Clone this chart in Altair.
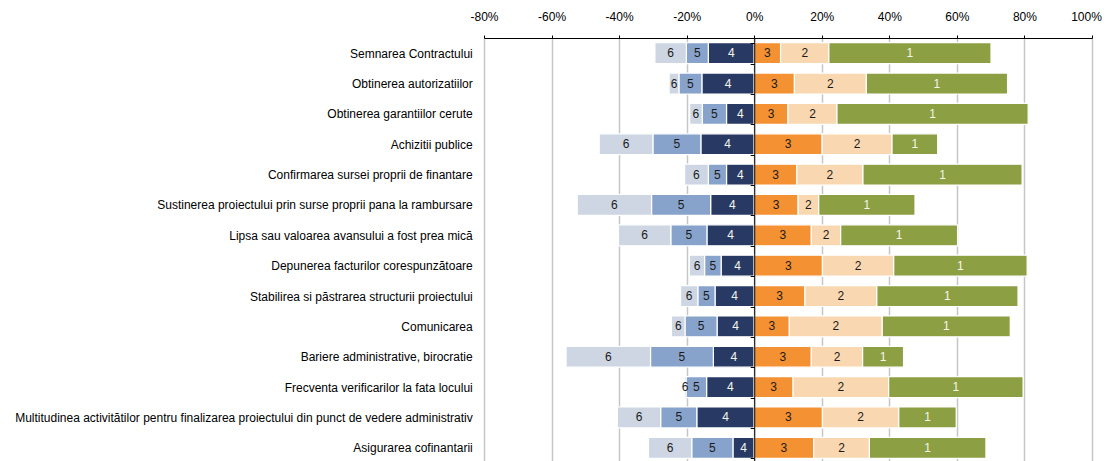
import altair as alt
import pandas as pd

categories = [
    "Semnarea Contractului",
    "Obtinerea autorizatiilor",
    "Obtinerea garantiilor cerute",
    "Achizitii publice",
    "Confirmarea sursei proprii de finantare",
    "Sustinerea proiectului prin surse proprii pana la rambursare",
    "Lipsa sau valoarea avansului a fost prea mică",
    "Depunerea facturilor corespunzătoare",
    "Stabilirea si păstrarea structurii proiectului",
    "Comunicarea",
    "Bariere administrative, birocratie",
    "Frecventa verificarilor la fata locului ",
    "Multitudinea activitătilor pentru finalizarea proiectului din punct de vedere administrativ",
    "Asigurarea cofinantarii",
]

# negative side (shown left of zero), magnitudes in %
v4 = [13.6, 15.5, 8.2, 15.8, 8.2, 12.9, 14.0, 9.8, 11.6, 11.0, 12.1, 14.1, 17.0, 6.3]
v5 = [6.5, 6.8, 7.2, 14.2, 5.4, 17.5, 10.7, 4.9, 5.1, 9.5, 18.6, 6.1, 10.7, 12.2]
v6 = [9.3, 2.9, 3.7, 15.9, 7.0, 22.0, 15.5, 4.5, 5.1, 4.0, 25.0, 0.5, 12.8, 12.8]
# positive side, in %
v3 = [7.8, 11.9, 10.0, 20.1, 12.6, 13.0, 16.9, 20.2, 15.0, 10.4, 16.9, 11.5, 20.2, 17.6]
v2 = [14.3, 21.3, 14.5, 20.7, 19.6, 6.1, 8.7, 21.1, 21.3, 27.5, 15.2, 28.3, 22.6, 16.5]
v1 = [48.0, 41.8, 56.6, 13.5, 47.1, 28.5, 34.6, 39.5, 41.8, 37.9, 12.1, 39.8, 17.0, 34.5]

keys = ["4", "5", "6", "3", "2", "1"]
key_colors = ["#283a64", "#87a3cb", "#cdd6e2", "#f49132", "#f9d8b1", "#8c9f43"]
tick_values = [-80, -60, -40, -20, 0, 20, 40, 60, 80, 100]

rows = []
for i, c in enumerate(categories):
    pos = 0.0
    for k, arr in (("4", v4), ("5", v5), ("6", v6)):
        start, end = pos, pos - arr[i]
        rows.append({"cat": c, "key": k, "x0": start, "x1": end, "mid": (start + end) / 2})
        pos = end
    pos = 0.0
    for k, arr in (("3", v3), ("2", v2), ("1", v1)):
        start, end = pos, pos + arr[i]
        rows.append({"cat": c, "key": k, "x0": start, "x1": end, "mid": (start + end) / 2})
        pos = end
df = pd.DataFrame(rows)

W, H = 608, 425
zero_px = W * 80 / 180
FONT = "Liberation Sans"

xscale = alt.Scale(domain=[-80, 100], nice=False, zero=False)
yenc = alt.Y(
    "cat:N",
    sort=categories,
    scale=alt.Scale(paddingInner=0.31, paddingOuter=0.155),
    axis=alt.Axis(
        title=None,
        orient="left",
        offset=-zero_px,
        domain=True,
        domainColor="black",
        domainWidth=1,
        ticks=True,
        tickBand="extent",
        tickColor="black",
        tickSize=4,
        tickWidth=1,
        labelPadding=278,
        labelFont=FONT,
        labelFontSize=12,
        labelColor="#000000",
        labelLimit=0,
        zindex=1,
    ),
)

bars = alt.Chart(df).mark_bar(stroke="white", strokeWidth=1.2).encode(
    x=alt.X(
        "x0:Q",
        scale=xscale,
        axis=alt.Axis(
            title=None,
            orient="top",
            values=tick_values,
            labelExpr="datum.value + '%'",
            labelFlush=False,
            labelOverlap=False,
            labelOffset={"condition": {"test": "datum.value == 100", "value": -6}, "value": 0},
            domain=True,
            domainColor="black",
            domainWidth=1,
            ticks=True,
            tickColor="black",
            tickSize=3,
            labelPadding=12,
            labelFont=FONT,
            labelFontSize=12,
            labelColor="#000000",
            grid=True,
            gridColor="#c6c6c6",
            gridWidth=1.5,
        ),
    ),
    x2="x1:Q",
    y=yenc,
    color=alt.Color("key:N", scale=alt.Scale(domain=keys, range=key_colors), legend=None),
)

labels = alt.Chart(df).mark_text(font=FONT, fontSize=12, baseline="middle", align="center").encode(
    x=alt.X("mid:Q", scale=xscale),
    y=alt.Y("cat:N", sort=categories),
    text="key:N",
    color=alt.condition(
        "datum.key == '4' || datum.key == '1'",
        alt.value("#f4f6ec"),
        alt.value("#1a1a1a"),
    ),
)

chart = (
    alt.layer(bars, labels)
    .properties(
        width=W,
        height=H,
        autosize="none",
        padding={"left": 476, "top": 30, "right": 10, "bottom": 0},
    )
    .configure_view(stroke=None)
)

chart.save("out.html", embed_options={"renderer": "svg", "actions": False})
